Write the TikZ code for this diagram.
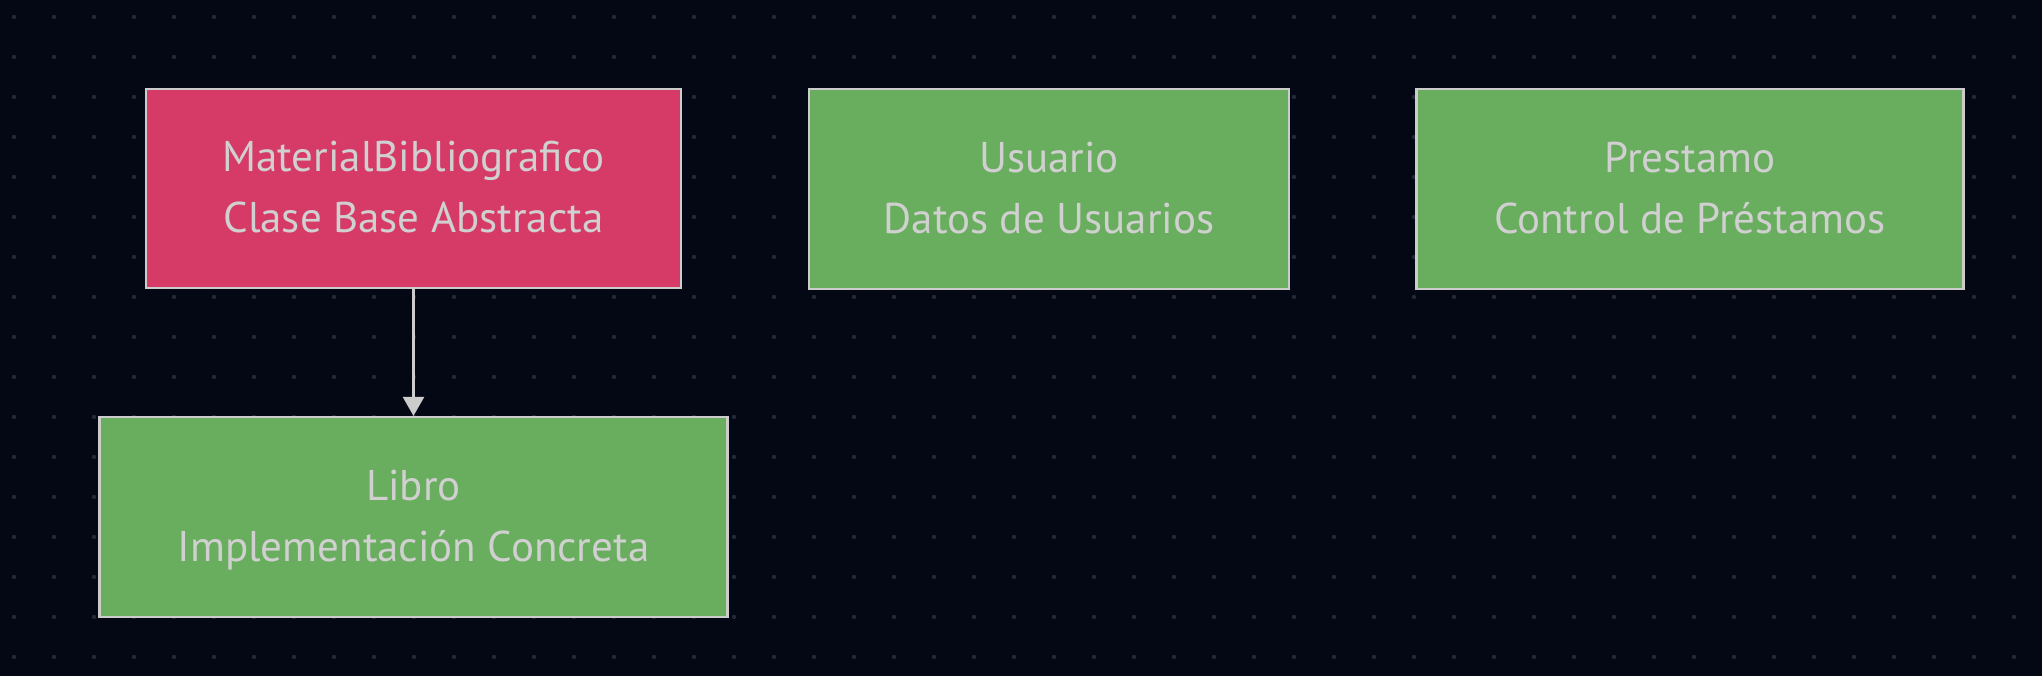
\documentclass[tikz,border=0pt]{standalone}
\usepackage{fontspec}
\setmainfont{PT Sans}
\usetikzlibrary{arrows.meta}
\definecolor{bgc}{HTML}{030814}
\definecolor{dotc}{HTML}{22273A}
\definecolor{pinkc}{HTML}{D63A66}
\definecolor{greenc}{HTML}{69AD5E}
\definecolor{linec}{HTML}{CCCCCC}
\definecolor{txtc}{HTML}{D0D0D0}
\newcommand{\lnstrut}{\rule[-13pt]{0pt}{54pt}}
\tikzset{
  box/.style={draw=linec, line width=2.2pt, inner sep=0pt, text=txtc,
    font=\fontsize{43}{61}\selectfont, align=center},
  pinkbox/.style={box, fill=pinkc},
  greenbox/.style={box, fill=greenc},
  conn/.style={draw=linec, line width=2.5pt, -{Triangle[width=21pt,length=19pt]}}
}
\begin{document}
\begin{tikzpicture}[x=1pt,y=-1pt]
\fill[bgc] (0,0) rectangle (2042,676);
\useasboundingbox (0,0) rectangle (2042,676);
\foreach \i in {0,...,50}{
  \foreach \j in {0,...,16}{
    \fill[dotc] (14+40*\i,17+40*\j) circle (2.2);
  }
}
\node[pinkbox, minimum width=535pt, minimum height=199pt] (mb) at (413.5,188.5)
  {\lnstrut MaterialBibliografico\\\lnstrut Clase Base Abstracta};
\node[greenbox, minimum width=480pt, minimum height=200pt] (us) at (1049,189)
  {\lnstrut Usuario\\\lnstrut Datos de Usuarios};
\node[greenbox, minimum width=547pt, minimum height=200pt] (pr) at (1690,189)
  {\lnstrut Prestamo\\\lnstrut Control de Préstamos};
\node[greenbox, minimum width=628pt, minimum height=200pt] (li) at (413.5,517)
  {\lnstrut Libro\\\lnstrut Implementación Concreta};
\draw[conn] (mb.south) -- (li.north);
\end{tikzpicture}
\end{document}
